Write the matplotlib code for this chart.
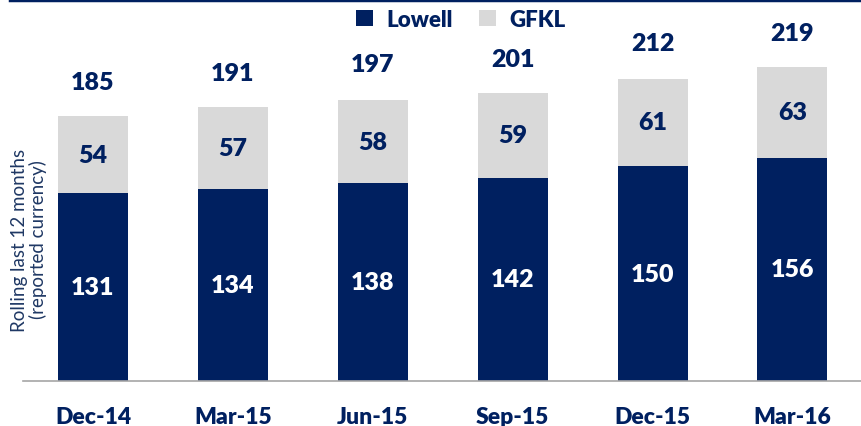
import matplotlib.pyplot as plt
import numpy as np
from matplotlib.lines import Line2D

plt.rcParams['font.family'] = ['Lato', 'DejaVu Sans']

quarters = ['Dec-14', 'Mar-15', 'Jun-15', 'Sep-15', 'Dec-15', 'Mar-16']
lowell = [131, 134, 138, 142, 150, 156]
gfkl = [54, 57, 58, 59, 61, 63]
totals = [185, 191, 197, 201, 212, 219]

navy = '#002060'
grey = '#D9D9D9'

fig = plt.figure(figsize=(8.61, 4.27), dpi=100)
ax = fig.add_axes([23 / 861, 45 / 427, 838 / 861, 382 / 427])

x = np.arange(len(quarters))
ax.bar(x, lowell, width=0.5, color=navy, label='Lowell')
ax.bar(x, gfkl, width=0.5, bottom=lowell, color=grey, label='GFKL')

for i in range(len(quarters)):
    ax.text(x[i], lowell[i] / 2, str(lowell[i]), ha='center', va='center',
            color='white', fontsize=18, fontweight='heavy')
    ax.text(x[i], lowell[i] + gfkl[i] / 2, str(gfkl[i]), ha='center', va='center',
            color=navy, fontsize=18, fontweight='heavy')
    ax.text(x[i], totals[i] + 24, str(totals[i]), ha='center', va='center',
            color=navy, fontsize=18, fontweight='heavy')

ax.set_xlim(-0.5, 5.49)
ax.set_ylim(0, 266.7)
ax.set_yticks([])
ax.set_xticks([])
for s in ['top', 'right', 'left']:
    ax.spines[s].set_visible(False)
ax.spines['bottom'].set_color('#A6A6A6')
ax.spines['bottom'].set_linewidth(1.2)

for i, q in enumerate(quarters):
    ax.text(x[i], -25, q, ha='center', va='center', color=navy,
            fontsize=16.5, fontweight='heavy')

fig.text(29 / 861, (427 - 240) / 427, 'Rolling last 12 months\n(reported currency)',
         rotation=90, ha='center', va='center', color='#1F3864', fontsize=13.5,
         linespacing=1.0)

ax.legend(loc='upper center', bbox_to_anchor=(438 / 838, 1.0), ncol=2, frameon=False,
          prop={'weight': 'heavy', 'size': 16}, labelcolor=navy, handlelength=0.75,
          handleheight=0.75, columnspacing=1.2, handletextpad=0.6, borderaxespad=0.05)

fig.add_artist(Line2D([10 / 861, 1], [1 - 1 / 427, 1 - 1 / 427], color=navy,
                      linewidth=2.5, transform=fig.transFigure))

fig.savefig('out.png', dpi=100)
